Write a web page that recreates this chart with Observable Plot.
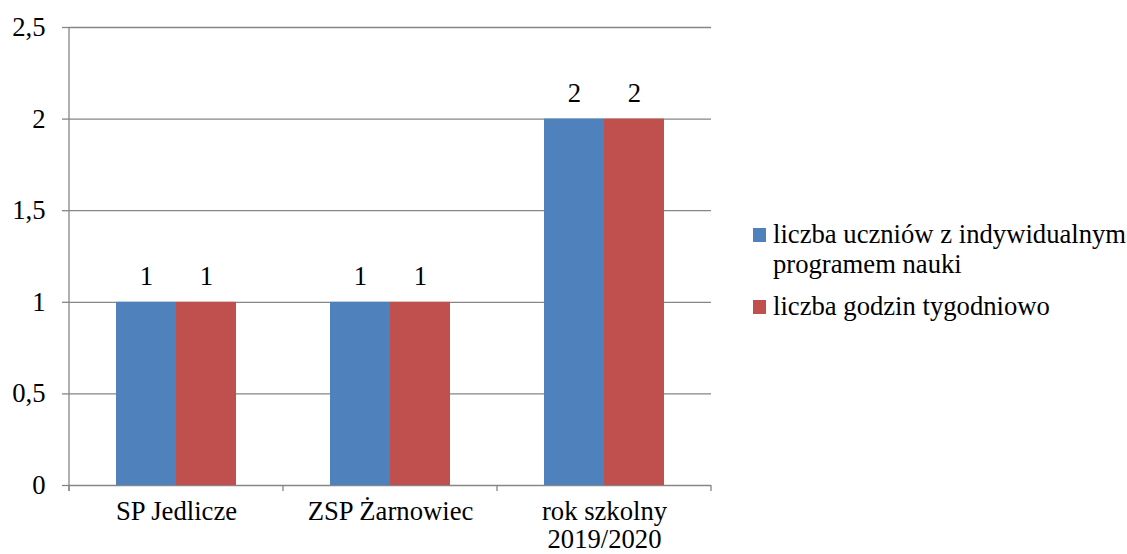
<!DOCTYPE html>
<html>
<head>
<meta charset="utf-8">
<script src="https://cdn.jsdelivr.net/npm/d3@7"></script>
<script src="https://cdn.jsdelivr.net/npm/@observablehq/plot@0.6"></script>
<style>
  body { margin: 0; background: white; }
  #wrap { position: relative; width: 1127px; height: 554px; font-family: 'Liberation Serif'; }
  #legend { position: absolute; left: 753px; top: 219px; width: 374px; font-size: 26.67px; color: #000; font-family: 'Liberation Serif'; white-space: nowrap; }
  .item { display: flex; align-items: flex-start; line-height: 30px; margin-bottom: 12px; }
  .sw { width: 13px; height: 14px; flex: none; margin-top: 9px; margin-right: 7px; }
  svg text { font-family: 'Liberation Serif'; }
</style>
</head>
<body>
<div id="wrap"><div id="legend"></div></div>
<script>
const categories = ["SP Jedlicze", "ZSP Żarnowiec", "rok szkolny\n2019/2020"];
const series = ["liczba uczniów z indywidualnym programem nauki", "liczba godzin tygodniowo"];
const legendLines = [["liczba uczniów z indywidualnym", "programem nauki"], ["liczba godzin tygodniowo"]];
const uczniowie = [1, 1, 2];
const godziny = [1, 1, 2];
const yTicks = [0, 0.5, 1, 1.5, 2, 2.5];
const colors = ["#4F81BD", "#C0504D"];

const data = categories.flatMap((c, i) => [
  {cat: c, s: series[0], v: uczniowie[i]},
  {cat: c, s: series[1], v: godziny[i]}
]);

const grid = "#868686";
const fs = 26.67;
const chart = Plot.plot({
  width: 1127, height: 554,
  marginLeft: 68, marginRight: 416, marginTop: 27, marginBottom: 69,
  style: "font-family: 'Liberation Serif'; font-size: 26.67px; background: white; color: black;",
  fx: {domain: categories, padding: 0, label: null},
  x: {domain: series, paddingInner: 0, paddingOuter: 0.755, axis: null},
  y: {domain: [0, 2.5], label: null},
  color: {domain: series, range: colors},
  marks: [
    Plot.ruleY(yTicks, {stroke: grid, strokeWidth: 1.3}),
    Plot.barY(data, {fx: "cat", x: "s", y: "v", fill: "s"}),
    Plot.text(data, {fx: "cat", x: "s", y: "v", text: d => String(d.v), lineAnchor: "bottom", dy: -17, fontSize: fs, fill: "black"}),
    Plot.axisY({ticks: yTicks, tickFormat: d => String(d).replace(".", ","), tickSize: 7, tickPadding: 17, stroke: grid, strokeWidth: 1.3, fontSize: fs, fill: "black", label: null}),
    Plot.axisFx({anchor: "bottom", tickSize: 0, tickPadding: 15, label: null, fontSize: fs, fill: "black", lineHeight: 1.05, lineAnchor: "top"})
  ]
});
document.getElementById("wrap").prepend(chart);

// axis line and category boundary ticks from the library's scales
const fx = chart.scale("fx");
const y = chart.scale("y");
const svg = d3.select(chart);
const y0 = y.apply(0), yTop = y.apply(2.5);
const left = fx.apply(categories[0]);
svg.append("line").attr("x1", left).attr("x2", left).attr("y1", yTop).attr("y2", y0 + 6)
  .attr("stroke", grid).attr("stroke-width", 1.3);
const edges = categories.map(c => fx.apply(c) + fx.bandwidth).concat([left]);
edges.forEach(xv => {
  svg.append("line").attr("x1", xv).attr("x2", xv).attr("y1", y0).attr("y2", y0 + 6)
    .attr("stroke", grid).attr("stroke-width", 1.3);
});

// legend
const leg = d3.select("#legend");
series.forEach((s, i) => {
  const it = leg.append("div").attr("class", "item");
  it.append("div").attr("class", "sw").style("background", colors[i]);
  const t = it.append("div");
  legendLines[i].forEach(l => t.append("div").text(l));
});
</script>
</body>
</html>
